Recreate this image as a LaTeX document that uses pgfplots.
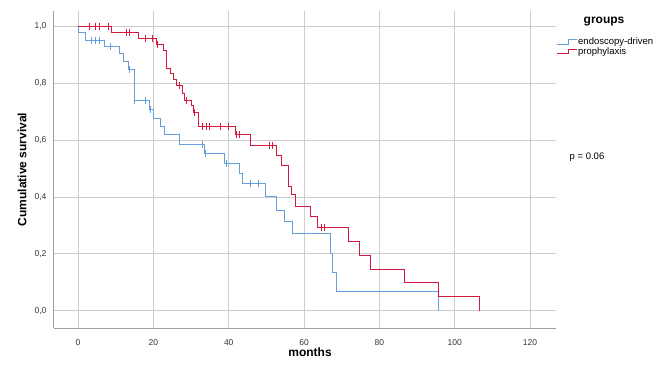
\documentclass[border=0pt]{standalone}
\usepackage{fontspec}
\setmainfont{Liberation Sans}
\usepackage{pgfplots}
\pgfplotsset{compat=1.18}
\definecolor{kmblue}{RGB}{100,160,222}
\definecolor{kmred}{RGB}{215,25,65}
\definecolor{gridgray}{RGB}{205,205,205}
\definecolor{axisgray}{RGB}{160,160,160}
\begin{document}
\begin{tikzpicture}
\useasboundingbox (0,0) rectangle (664pt,367pt);
\begin{axis}[
  at={(54pt,39pt)}, anchor=south west,
  scale only axis, width=502pt, height=317pt,
  xmin=-6.4, xmax=126.9, ymin=-0.06, ymax=1.053,
  axis x line=bottom, axis y line=left,
  axis line style={-, draw=axisgray, line width=1pt},
  xtick={0,20,...,120}, ytick={0,0.2,...,1.0},
  major tick length=0pt,
  grid=major, major grid style={draw=gridgray, line width=0.9pt},
  /pgf/number format/assume math mode=true,
  yticklabel style={/pgf/number format/use comma, /pgf/number format/fixed, /pgf/number format/fixed zerofill, /pgf/number format/precision=1, xshift=-4pt},
  ticklabel style={font=\fontsize{8.5}{10}\selectfont, text=black!80},
  xticklabel style={yshift=-8pt},
  xlabel={months}, ylabel={Cumulative survival},
  xlabel style={font=\bfseries\fontsize{12}{14}\selectfont, at={(axis description cs:0.51,-0.076)}, anchor=center},
  ylabel style={font=\bfseries\fontsize{12}{14}\selectfont, at={(axis description cs:-0.0637,0.5)}, anchor=center},
  legend style={at={(1.0,0.922)}, anchor=north west, draw=none, fill=none,
    font=\fontsize{9.5}{10.5}\selectfont, inner xsep=0pt, inner ysep=0pt, row sep=-2.5pt,
    nodes={inner xsep=1pt}},
  legend cell align=left,
  legend image code/.code={\draw[#1] (0pt,-2pt) -- (12pt,-2pt) -- (12pt,2.5pt) -- (20pt,2.5pt);},
  clip=false,
]
% endoscopy-driven
\addplot[const plot, color=kmblue, line width=1pt] coordinates {
(0,1) (0,0.977) (2,0.951) (6.9,0.928) (10.9,0.905) (12,0.875) (13.4,0.848)
(14.9,0.74) (18.9,0.708) (20,0.676) (22,0.649) (22.9,0.618) (26.9,0.585)
(33.5,0.553) (38.8,0.518) (42.8,0.483) (43.7,0.448) (49.8,0.4) (52.8,0.354)
(54.7,0.313) (57,0.272) (66.9,0.2) (67.6,0.134) (68.5,0.067) (95.7,0)
};
\addlegendentry{endoscopy-driven}
% prophylaxis
\addplot[const plot, color=kmred, line width=1pt] coordinates {
(0,1) (9,0.979) (16,0.958) (20.8,0.937) (22.6,0.916) (23.5,0.852) (24.6,0.832)
(25.3,0.811) (26,0.79) (27.6,0.763) (28.2,0.74) (30,0.72) (30.6,0.696)
(32,0.647) (41.8,0.618) (45.9,0.582) (52.8,0.547) (53.9,0.512) (55.9,0.436)
(56.6,0.407) (57.7,0.366) (61.7,0.33) (63.7,0.293) (71.8,0.243) (74.7,0.196)
(77.7,0.147) (86.6,0.098) (95.7,0.049) (106.6,0)
};
\addlegendentry{prophylaxis}
% censored marks
\addplot[only marks, mark=|, mark size=3.5pt, color=kmblue, mark options={line width=1pt}, forget plot] coordinates {
(3.6,0.951) (4.7,0.951) (5.6,0.951) (8.7,0.928) (13.7,0.848) (15.1,0.74)
(17.8,0.74) (19.1,0.708) (33.1,0.585) (33.8,0.553) (39.3,0.518) (45.7,0.448) (48,0.448)
};
\addplot[only marks, mark=|, mark size=3.5pt, color=kmred, mark options={line width=1pt}, forget plot] coordinates {
(2.9,1) (4.7,1) (5.6,1) (8.1,1) (12.9,0.979) (13.7,0.979) (17.8,0.958) (19.8,0.958)
(21,0.937) (27,0.79) (28.8,0.74) (30.9,0.696) (33.1,0.647) (34,0.647) (34.8,0.647)
(37.9,0.647) (39.9,0.647) (42.1,0.618) (42.8,0.618) (50.8,0.582) (51.6,0.582)
(64.6,0.293) (65.5,0.293)
};
\end{axis}
\node[font=\bfseries\fontsize{12}{14}\selectfont] at (604pt,345pt) {groups};
\node[font=\fontsize{9.5}{11}\selectfont] at (587pt,210pt) {p = 0.06};
\end{tikzpicture}
\end{document}
